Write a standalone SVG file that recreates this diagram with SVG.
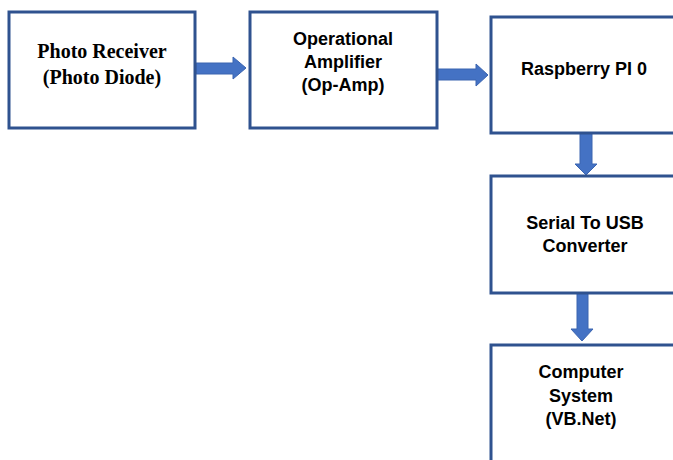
<svg xmlns="http://www.w3.org/2000/svg" width="673" height="460" viewBox="0 0 673 460">
<style>
.box{fill:#fff;stroke:#2F528F;stroke-width:3}
.arr{fill:#4472C4;stroke:#3A64B0;stroke-width:1}
.s{font-family:"Liberation Sans",Arial,sans-serif;font-weight:bold;font-size:18px;fill:#000;text-anchor:middle}
.t{font-family:"Liberation Serif","Times New Roman",serif;font-weight:bold;font-size:20px;fill:#000;text-anchor:middle}
</style>
<rect width="673" height="460" fill="#fff"/>
<g id="connectors">
<polygon class="arr" points="196,63 233,63 233,57 246,68 233,79 233,74 196,74"/>
<polygon class="arr" points="437,69 476,69 476,64 488,75 476,86 476,80 437,80"/>
<polygon class="arr" points="580,133 592,133 592,164 597,164 586,175 575,164 580,164"/>
<polygon class="arr" points="577,293 588,293 588,329 593,329 582,341 571,329 577,329"/>
</g>
<g id="photo-receiver">
<rect class="box" x="9" y="12" width="186" height="116"/>
<text class="t" x="102" y="58">Photo Receiver</text>
<text class="t" x="102" y="84">(Photo Diode)</text>
</g>
<g id="op-amp">
<rect class="box" x="250" y="12" width="187" height="116"/>
<text class="s" x="343" y="45">Operational</text>
<text class="s" x="343" y="68">Amplifier</text>
<text class="s" x="343" y="91">(Op-Amp)</text>
</g>
<g id="raspberry">
<rect class="box" x="491" y="17" width="190" height="116"/>
<text class="s" x="584" y="75">Raspberry PI 0</text>
</g>
<g id="serial-usb">
<rect class="box" x="491" y="176" width="190" height="117"/>
<text class="s" x="585" y="229">Serial To USB</text>
<text class="s" x="585" y="252">Converter</text>
</g>
<g id="computer">
<rect class="box" x="491" y="345" width="190" height="130"/>
<text class="s" x="581" y="378">Computer</text>
<text class="s" x="581" y="402">System</text>
<text class="s" x="581" y="425">(VB.Net)</text>
</g>
</svg>
